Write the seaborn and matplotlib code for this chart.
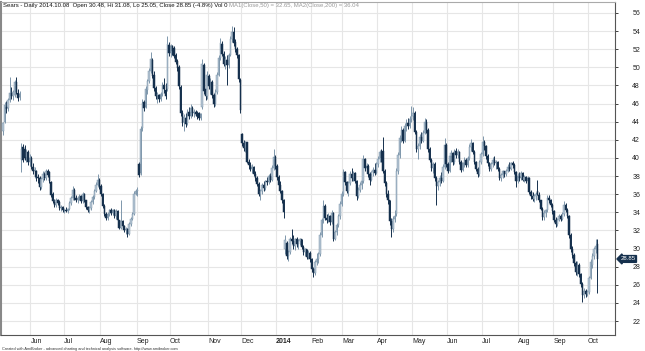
import matplotlib
matplotlib.use("Agg")
import matplotlib.pyplot as plt
import seaborn as sns
import pandas as pd
import numpy as np

# NYSE holidays inside the chart window
holidays = ["2013-05-27", "2013-07-04", "2013-09-02", "2013-11-28", "2013-12-25",
            "2014-01-01", "2014-01-20", "2014-02-17", "2014-04-18", "2014-05-26",
            "2014-07-04", "2014-09-01"]

# daily OHLC, one line per month (May 2013 .. Oct 2014)
opens = [
    43.0, 44.0, 45.6, 45.5, 46.4, 47.2, 46.8, 46.9, 48.4, 47.2, 46.7, 39.8, 41.2, 41.0, 40.1, 40.6, 39.6,
    40.0, 39.0, 38.6, 38.5, 37.9, 37.8, 36.8, 37.7, 38.2, 37.8, 38.6, 38.4, 37.3, 36.0, 35.1, 34.8, 35.3, 35.1, 34.5, 34.6,
    34.2, 34.3, 34.1, 34.4, 35.0, 35.6, 36.5, 35.6, 35.4, 35.7, 35.8, 35.2, 36.0, 35.3, 34.6, 34.2, 34.5, 35.1, 35.7, 36.4, 37.0, 37.6,
    36.9, 36.0, 34.7, 33.8, 33.4, 33.8, 34.2, 33.9, 34.2, 33.6, 34.1, 33.1, 32.3, 33.0, 32.5, 32.0, 32.2, 31.6, 32.7, 33.3, 33.8, 36.0,
    36.3, 39.3, 38.3, 43.3, 46.2, 45.6, 47.5, 48.5, 49.6, 50.8, 49.2, 47.7, 46.8, 46.9, 46.5, 47.1, 48.0, 47.5, 47.6, 52.5,
    51.6, 52.3, 52.1, 51.4, 50.7, 50.0, 47.8, 44.9, 44.0, 44.4, 43.8, 45.1, 44.6, 45.5, 44.9, 45.1, 44.8, 44.9, 44.4, 45.6, 50.2, 47.6, 46.8,
    49.0, 47.9, 48.4, 46.9, 45.9, 47.3, 49.2, 51.0, 52.6, 51.5, 50.4, 50.8, 50.2, 51.4, 53.1, 53.9, 52.8, 52.0, 51.3, 48.6,
    42.6, 41.6, 41.1, 41.7, 39.6, 39.2, 38.8, 39.0, 38.2, 37.8, 37.1, 36.0, 36.3, 37.0, 36.7, 37.4, 37.3, 38.0, 37.6, 38.9, 40.1,
    39.1, 37.9, 37.0, 36.3, 35.3, 30.0, 30.6, 29.2, 29.6, 31.0, 30.8, 30.3, 31.0, 30.5, 30.8, 31.0, 30.2, 29.6, 29.9, 29.1, 29.5,
    28.8, 27.7, 27.3, 28.5, 28.8, 29.4, 31.5, 33.1, 34.7, 33.4, 33.1, 33.6, 32.9, 33.9, 31.1, 31.8, 32.6, 33.6, 34.9,
    36.0, 38.4, 37.3, 36.4, 37.2, 38.2, 37.8, 38.3, 37.5, 35.8, 36.5, 37.0, 37.4, 39.9, 38.9, 39.1, 38.2, 37.6, 38.4, 38.7, 38.3,
    39.3, 39.9, 40.6, 40.8, 38.6, 37.2, 36.0, 35.3, 33.0, 32.2, 33.3, 33.8, 38.5, 40.3, 42.2, 43.1, 41.9, 43.5, 43.9, 43.5, 44.3,
    44.6, 45.0, 42.9, 41.0, 41.3, 42.3, 41.9, 42.8, 44.0, 43.1, 41.0, 39.8, 38.9, 39.3, 37.8, 36.9, 37.3, 37.8, 37.5, 39.0, 41.4,
    39.3, 38.6, 40.2, 40.5, 39.5, 40.8, 40.3, 40.7, 39.6, 38.7, 39.4, 39.8, 39.2, 40.0, 41.2, 41.6, 40.7, 39.5, 38.8, 38.2, 39.6,
    40.4, 41.8, 41.3, 40.2, 39.4, 38.8, 39.3, 39.8, 39.4, 39.6, 38.8, 37.8, 38.1, 38.5, 38.2, 38.6, 39.0, 38.8, 39.4, 39.2, 38.4, 37.5,
    38.0, 37.8, 38.3, 37.6, 37.9, 37.4, 37.8, 36.2, 35.8, 35.5, 35.8, 36.4, 35.9, 35.3, 34.4, 33.5, 33.9, 34.2, 35.6, 35.3, 34.8,
    34.1, 33.2, 32.7, 33.2, 33.6, 33.3, 33.8, 34.8, 34.3, 33.6, 31.5, 29.9, 29.3, 28.4, 27.4, 28.2, 27.2, 26.1, 24.9, 25.3, 25.0,
    25.2, 26.8, 28.2, 29.2, 29.9, 30.48,
]
highs = [
    44.0, 46.2, 46.3, 46.6, 48.9, 47.8, 47.5, 48.6, 48.9, 47.6, 47.4, 41.6, 41.5, 41.4, 41.0, 40.9, 40.4,
    40.2, 39.4, 39.0, 38.7, 38.2, 38.0, 37.9, 38.5, 38.4, 38.8, 38.8, 38.6, 37.4, 36.2, 35.5, 35.6, 35.5, 35.3, 34.8, 34.7,
    34.5, 34.6, 34.5, 35.2, 35.8, 36.9, 36.7, 35.9, 35.8, 36.0, 35.9, 36.2, 36.1, 35.4, 34.7, 34.7, 35.3, 35.9, 36.6, 37.3, 38.2, 37.8,
    37.1, 36.1, 34.9, 34.0, 34.0, 34.4, 34.5, 34.4, 34.4, 34.4, 34.2, 33.2, 35.4, 33.1, 32.6, 32.4, 32.3, 32.9, 33.5, 34.0, 36.3, 36.6,
    36.8, 39.5, 43.5, 46.5, 46.4, 47.9, 48.7, 49.9, 51.7, 51.0, 49.6, 47.9, 47.3, 47.1, 47.3, 48.4, 48.8, 48.3, 53.4, 52.8,
    52.6, 52.5, 52.3, 51.6, 50.9, 50.2, 48.0, 45.3, 44.8, 44.9, 45.4, 45.6, 45.9, 45.7, 45.4, 45.3, 45.2, 45.1, 45.0, 50.9, 50.5, 47.9, 49.6,
    49.3, 48.8, 48.6, 47.2, 47.6, 49.5, 51.4, 53.2, 52.9, 51.8, 51.2, 51.4, 51.6, 53.4, 54.6, 54.4, 53.1, 52.2, 51.5, 48.8,
    42.8, 42.0, 41.9, 41.8, 39.9, 39.6, 39.3, 39.1, 38.5, 38.0, 37.3, 36.6, 37.2, 37.4, 37.6, 37.9, 38.2, 38.3, 39.2, 41.0, 40.3,
    39.3, 38.1, 37.4, 36.5, 35.5, 31.5, 30.8, 29.8, 31.3, 32.1, 31.5, 31.2, 31.3, 31.0, 31.2, 31.1, 30.4, 30.1, 30.0, 29.8, 29.7,
    29.0, 28.0, 28.7, 29.5, 29.6, 31.8, 33.4, 35.4, 34.9, 33.8, 33.9, 33.7, 34.2, 34.0, 32.0, 32.8, 33.8, 35.2, 36.3,
    38.8, 38.6, 37.5, 37.4, 38.5, 38.9, 38.6, 38.4, 37.6, 36.8, 37.3, 37.6, 40.3, 40.0, 39.4, 39.3, 38.4, 38.6, 39.0, 39.4, 39.5,
    40.2, 40.9, 41.0, 42.3, 38.8, 37.4, 36.5, 35.4, 33.4, 33.6, 34.2, 38.9, 40.6, 42.5, 43.5, 43.3, 43.8, 44.3, 44.4, 44.6, 45.7,
    45.6, 45.2, 43.1, 41.6, 42.6, 42.9, 43.1, 44.4, 44.3, 43.3, 41.2, 40.0, 39.6, 39.5, 38.0, 37.6, 38.1, 38.4, 39.3, 42.2, 41.6,
    39.5, 40.5, 40.9, 40.7, 41.0, 41.1, 41.0, 40.8, 39.8, 39.6, 40.1, 40.0, 40.2, 41.5, 42.1, 41.8, 40.9, 39.7, 39.0, 39.8, 40.6,
    42.4, 42.0, 41.4, 40.4, 39.6, 39.5, 40.1, 40.2, 39.8, 39.7, 39.0, 38.3, 38.7, 38.6, 38.8, 39.3, 39.5, 39.6, 39.7, 39.4, 38.6, 38.3,
    38.4, 38.5, 38.4, 38.1, 38.0, 38.0, 37.9, 36.5, 36.2, 36.0, 36.2, 37.6, 36.2, 35.4, 34.6, 34.2, 34.4, 35.9, 35.9, 35.5, 35.0,
    34.3, 33.5, 33.4, 33.8, 33.8, 34.0, 35.2, 35.0, 34.5, 33.7, 31.7, 30.3, 29.5, 28.6, 28.6, 28.4, 27.3, 26.3, 25.6, 25.5, 25.4,
    27.0, 28.8, 29.5, 30.2, 31.0, 31.08,
]
lows = [
    42.5, 43.8, 45.0, 45.2, 46.2, 46.5, 46.4, 46.7, 47.0, 46.3, 46.4, 38.4, 39.6, 39.8, 39.5, 39.2, 39.1,
    38.8, 38.2, 37.8, 37.5, 37.2, 36.5, 36.6, 37.3, 37.6, 37.6, 37.9, 37.2, 35.7, 35.0, 34.6, 34.6, 34.8, 34.3, 34.1, 34.0,
    33.9, 34.0, 33.9, 34.2, 34.8, 35.4, 35.4, 35.1, 35.0, 35.3, 35.0, 35.0, 35.1, 34.4, 34.0, 33.9, 34.3, 34.9, 35.5, 36.2, 36.8, 36.6,
    35.8, 34.5, 33.6, 33.1, 33.2, 33.6, 33.7, 33.7, 33.4, 33.3, 32.9, 32.1, 32.1, 32.2, 31.8, 31.6, 31.3, 31.5, 32.5, 33.1, 33.7, 35.9,
    35.8, 37.9, 38.1, 43.0, 45.2, 45.5, 47.1, 48.3, 49.4, 48.8, 47.4, 46.5, 46.1, 46.2, 46.3, 46.8, 47.2, 46.5, 47.4, 51.2,
    51.1, 51.3, 51.0, 50.4, 49.6, 47.6, 44.6, 43.5, 43.0, 43.4, 43.6, 44.3, 44.4, 44.6, 44.5, 44.6, 44.3, 44.2, 44.2, 45.4, 47.0, 46.4, 46.5,
    47.6, 47.0, 46.6, 45.6, 45.7, 47.1, 49.0, 50.8, 51.2, 50.1, 49.8, 48.0, 49.9, 51.2, 52.8, 52.4, 51.7, 51.0, 48.4, 45.0,
    41.3, 40.8, 40.6, 39.4, 38.8, 38.5, 38.3, 38.0, 37.5, 36.9, 35.8, 35.3, 36.0, 36.4, 36.5, 37.0, 37.1, 37.3, 37.5, 38.7, 38.8,
    37.6, 36.7, 36.1, 35.0, 33.4, 29.4, 28.8, 28.6, 29.4, 30.5, 30.0, 29.8, 30.2, 30.0, 30.4, 29.9, 29.3, 29.2, 28.9, 28.8, 28.5,
    27.4, 26.9, 27.1, 28.2, 28.4, 29.2, 31.3, 32.8, 33.1, 32.8, 32.9, 32.6, 32.7, 30.8, 30.9, 31.5, 32.4, 33.3, 34.7,
    35.8, 37.0, 36.1, 35.8, 37.0, 37.5, 37.4, 37.2, 35.4, 35.6, 36.2, 36.6, 37.2, 38.6, 38.3, 37.9, 37.0, 37.4, 38.0, 38.1, 38.2,
    39.0, 39.5, 39.6, 38.3, 36.9, 35.7, 34.9, 32.6, 31.3, 31.8, 32.9, 33.6, 38.2, 40.0, 41.8, 41.6, 41.7, 43.0, 43.2, 43.3, 44.0,
    44.2, 42.6, 40.6, 39.9, 41.0, 41.6, 41.7, 42.6, 42.8, 40.7, 39.5, 38.6, 38.3, 37.5, 34.8, 36.5, 36.9, 37.2, 37.3, 38.8, 39.0,
    38.3, 38.4, 39.6, 39.2, 39.3, 40.0, 40.0, 39.3, 38.4, 38.5, 39.0, 39.0, 39.0, 39.8, 40.8, 40.4, 39.3, 38.5, 37.9, 38.0, 39.3,
    40.2, 40.9, 39.9, 39.1, 38.5, 38.6, 39.0, 39.2, 38.8, 38.6, 37.6, 37.4, 37.8, 37.9, 38.0, 38.4, 38.6, 38.7, 38.9, 38.2, 36.8, 37.2,
    37.5, 37.6, 37.4, 37.3, 37.2, 37.2, 36.0, 35.5, 35.2, 35.1, 35.4, 35.9, 35.1, 34.2, 33.2, 33.1, 33.5, 34.0, 35.0, 34.6, 33.8,
    32.9, 32.4, 32.5, 33.0, 33.0, 33.1, 33.6, 34.0, 33.4, 31.2, 29.6, 29.0, 28.1, 27.1, 27.0, 26.9, 25.8, 24.1, 24.5, 24.7, 24.8,
    25.0, 26.6, 27.9, 28.8, 29.5, 25.05,
]
closes = [
    43.8, 45.8, 45.4, 46.4, 47.2, 46.8, 47.3, 48.4, 47.3, 46.6, 47.1, 41.0, 39.8, 40.0, 40.6, 39.5, 40.0,
    39.0, 38.5, 38.6, 37.9, 37.8, 36.8, 37.7, 38.2, 37.8, 38.6, 38.1, 37.4, 35.9, 35.2, 34.8, 35.4, 35.0, 34.5, 34.6, 34.2,
    34.3, 34.1, 34.4, 35.0, 35.6, 36.5, 35.6, 35.4, 35.6, 35.8, 35.2, 36.0, 35.3, 34.6, 34.2, 34.5, 35.1, 35.7, 36.4, 37.0, 37.6, 36.9,
    36.0, 34.7, 33.8, 33.4, 33.8, 34.2, 33.9, 34.2, 33.6, 34.1, 33.1, 32.3, 33.0, 32.5, 32.0, 32.2, 31.6, 32.7, 33.3, 33.8, 36.0, 36.4,
    36.5, 38.1, 43.2, 46.1, 45.5, 47.6, 48.5, 49.6, 50.9, 49.0, 47.7, 46.8, 47.0, 46.5, 47.1, 48.0, 47.6, 46.8, 52.6, 51.6,
    52.3, 51.8, 51.2, 50.6, 49.9, 47.9, 44.9, 43.9, 44.5, 43.7, 45.1, 44.6, 45.5, 44.9, 45.1, 44.8, 44.6, 44.4, 44.8, 50.4, 47.4, 46.8, 49.2,
    47.9, 48.5, 46.9, 45.9, 47.3, 49.2, 51.0, 52.7, 51.5, 50.4, 50.9, 50.2, 51.4, 53.1, 53.9, 52.7, 52.0, 51.3, 48.7, 45.3,
    41.6, 41.1, 41.7, 39.6, 39.2, 38.8, 39.0, 38.2, 37.8, 37.1, 36.0, 36.3, 37.0, 36.7, 37.4, 37.3, 38.0, 37.6, 38.9, 40.1, 39.1,
    37.9, 37.0, 36.3, 35.3, 34.0, 30.9, 29.2, 29.6, 31.0, 30.8, 30.3, 31.0, 30.5, 30.8, 31.0, 30.2, 29.6, 29.9, 29.1, 29.5, 28.8,
    27.7, 27.3, 28.5, 28.8, 29.4, 31.5, 33.1, 34.7, 33.4, 33.1, 33.6, 32.9, 33.9, 31.1, 31.8, 32.6, 33.6, 34.9, 36.0,
    38.4, 37.3, 36.4, 37.2, 38.2, 37.8, 38.3, 37.5, 35.8, 36.5, 37.0, 37.4, 39.9, 38.9, 39.1, 38.2, 37.6, 38.4, 38.7, 38.3, 39.3,
    39.9, 40.6, 40.0, 38.6, 37.2, 36.0, 35.3, 33.0, 32.2, 33.3, 33.6, 38.5, 40.3, 42.2, 43.1, 41.9, 43.5, 43.9, 43.5, 44.3, 44.6,
    45.0, 42.9, 41.0, 41.3, 42.3, 41.9, 42.8, 44.0, 43.1, 41.0, 39.8, 38.9, 39.3, 37.8, 36.9, 37.3, 37.8, 37.5, 39.0, 41.4, 39.3,
    38.6, 40.2, 40.5, 39.5, 40.8, 40.3, 40.7, 39.6, 38.7, 39.4, 39.8, 39.2, 40.0, 41.2, 41.6, 40.7, 39.5, 38.8, 38.2, 39.6, 40.4,
    41.8, 41.3, 40.2, 39.4, 38.8, 39.3, 39.8, 39.4, 39.6, 38.8, 37.8, 38.1, 38.5, 38.2, 38.6, 39.0, 38.8, 39.4, 39.2, 38.4, 37.5, 38.0,
    37.8, 38.3, 37.6, 37.9, 37.4, 37.8, 36.2, 35.8, 35.5, 35.8, 36.0, 35.9, 35.3, 34.4, 33.5, 33.9, 34.2, 35.6, 35.3, 34.8, 34.1,
    33.2, 32.7, 33.2, 33.6, 33.3, 33.8, 34.8, 34.3, 33.6, 31.5, 29.9, 29.3, 28.4, 27.4, 28.2, 27.2, 26.1, 24.9, 25.3, 25.0, 25.2,
    26.8, 28.5, 29.2, 29.9, 30.3, 28.85,
]

y_ticks = list(range(22, 57, 2))
title_main = "Sears - Daily 2014.10.08  Open 30.48, Hi 31.08, Lo 25.05, Close 28.85 (-4.8%) Vol 0 "
title_ma = "MA1(Close,50) = 32.65, MA2(Close,200) = 36.04"
footer = "Created with AmiBroker - advanced charting and technical analysis software. http://www.amibroker.com"

UP_FACE = "#b4c5d3"
UP_EDGE = "#7f97ac"
DOWN = "#15304d"
GRID = "#e6e6e6"

dates = pd.bdate_range("2013-05-08", "2014-10-08", freq="C", holidays=holidays)
df = pd.DataFrame({"date": dates, "open": opens, "high": highs, "low": lows, "close": closes})
df["bar"] = np.arange(len(df))
df["up"] = df["close"] >= df["open"]

sns.set_style("white")
plt.rcParams["font.family"] = ["Liberation Sans", "DejaVu Sans"]

fig = plt.figure(figsize=(6.45, 3.51), dpi=100)
ax = fig.add_axes([1 / 645, 16 / 351, 614 / 645, 333 / 351])

# month starts -> vertical grid + labels
month_start = df[df["date"].dt.month != df["date"].shift(1).dt.month].iloc[1:]
for b in month_start["bar"]:
    ax.axvline(b - 0.5, color=GRID, lw=0.8, zorder=0)
for v in y_ticks:
    ax.axhline(v, color=GRID, lw=0.8, zorder=0)

for up, face, edge in [(True, UP_FACE, UP_EDGE), (False, DOWN, DOWN)]:
    d = df[df["up"] == up]
    ax.vlines(d["bar"], d["low"], d["high"], color=edge, lw=0.7, zorder=2)
    ax.bar(d["bar"], (d["close"] - d["open"]).abs().clip(lower=0.1),
           bottom=d[["open", "close"]].min(axis=1), width=0.85,
           color=face, edgecolor=edge, linewidth=0.35, zorder=3)

ax.set_xlim(-1.2, 368.7)
ax.set_ylim(20.46, 57.2)

ax.yaxis.tick_right()
ax.set_yticks(y_ticks)
ax.set_yticklabels([str(v) for v in y_ticks])
ax.tick_params(axis="y", direction="out", length=2.5, width=0.6, pad=10,
               labelsize=5, colors="#222222")

labels = [("2014" if d.month == 1 else d.strftime("%b")) for d in month_start["date"]]
ax.set_xticks(month_start["bar"] - 0.5)
ax.set_xticklabels(labels, ha="left")
ax.tick_params(axis="x", direction="out", length=2.5, width=0.6, pad=0,
               labelsize=5, colors="#222222")
for lab in ax.get_xticklabels():
    if lab.get_text() == "2014":
        lab.set_fontweight("bold")

for side in ["top", "right", "bottom"]:
    ax.spines[side].set_color("#555555")
    ax.spines[side].set_linewidth(0.8)
ax.spines["left"].set_color("#888888")
ax.spines["left"].set_linewidth(1.5)
ax.spines["top"].set_color("#aaaaaa")

t1 = fig.text(3 / 645, 1 - 6 / 351, title_main, fontsize=4.3, color="#111111", va="center")
ax.annotate(title_ma, xy=(1, 0), xycoords=t1, va="bottom", fontsize=4.3, color="#999999")

ax.annotate(f"{closes[-1]:.2f}", xy=(1, closes[-1]), xycoords=("axes fraction", "data"),
            xytext=(4, 0), textcoords="offset points", va="center", ha="left",
            fontsize=4.3, color="white",
            bbox=dict(boxstyle="larrow,pad=0.15", fc=DOWN, ec=DOWN))

fig.text(2 / 645, 2.2 / 351, footer, fontsize=2.8, color="#333333", va="center")

fig.savefig("out.png", dpi=100)
